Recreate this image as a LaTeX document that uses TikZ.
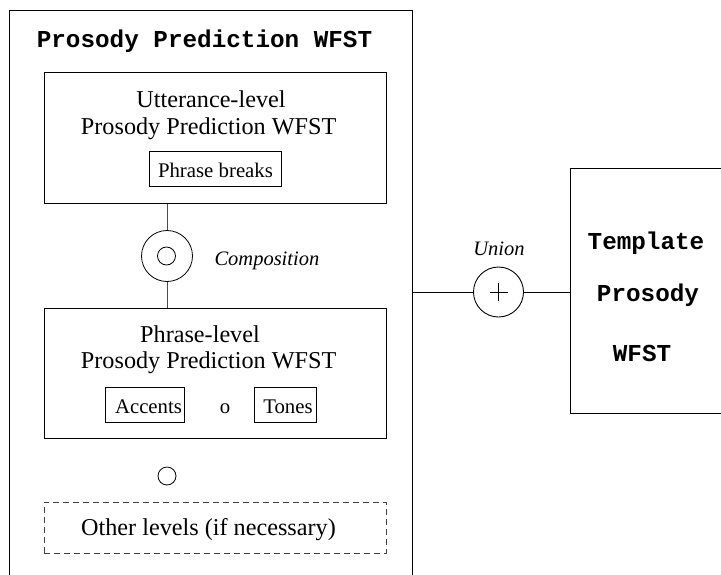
\documentclass[tikz,border=0pt]{standalone}
\usepackage{fontspec}
\setmainfont{Liberation Serif}
\setmonofont{Liberation Mono}
\begin{document}
\begin{tikzpicture}[x=1pt,y=-1pt,
  serif/.style={font=\fontsize{20.8}{24}\selectfont},
  big/.style={font=\fontsize{24.2}{28}\selectfont},
  ital/.style={font=\fontsize{20.5}{24}\selectfont\itshape},
  monot/.style={font=\fontsize{24.3}{28}\selectfont\ttfamily\bfseries},
  box/.style={draw,line width=0.9pt,inner sep=0pt,anchor=north west},
  smallbox/.style={draw,line width=0.8pt,inner sep=0pt},
  conn/.style={line width=0.9pt},
  grayconn/.style={line width=0.8pt,draw=black!70}]
\useasboundingbox (0,0) rectangle (721,574);
% outer box (cut by the page)
\draw[conn] (9.5,580) |- (412,10) -- (412,580);
\node[monot,anchor=base] (title) at (204.5,47) {Prosody Prediction WFST};
% utterance box
\node[box,minimum width=342pt,minimum height=131pt] (utt) at (44,72) {};
\node[big,anchor=base] (utt1) at (211,107) {Utterance-level};
\node[big,anchor=base] (utt2) at (208.7,134) {Prosody Prediction WFST};
\node[smallbox,minimum width=132pt,minimum height=35pt] (pb) at (215,168.5) {};
\node[serif,anchor=base] (pblab) at (215.5,177) {Phrase breaks};
% composition
\node[draw,circle,line width=0.8pt,minimum size=51pt,inner sep=0pt] (comp) at (167,256) {};
\node[draw,circle,line width=0.8pt,minimum size=18pt,inner sep=0pt] (compin) at (166.5,256) {};
\node[ital,anchor=base west] (complab) at (211,265) {Composition};
% phrase box
\node[box,minimum width=342pt,minimum height=130pt] (phr) at (44,308) {};
\node[big,anchor=base] (phr1) at (200,342) {Phrase-level};
\node[big,anchor=base] (phr2) at (208.7,368) {Prosody Prediction WFST};
\node[smallbox,minimum width=79pt,minimum height=35pt] (acc) at (144.5,404.5) {};
\node[serif,anchor=base] (acclab) at (148.5,413) {Accents};
\node[serif,anchor=base] (o) at (225,413) {o};
\node[smallbox,minimum width=62pt,minimum height=35pt] (tones) at (285,404.5) {};
\node[serif,anchor=base] (toneslab) at (288,413) {Tones};
\draw[grayconn] (utt.south -| comp) -- (comp.north);
\draw[grayconn] (comp.south) -- (phr.north -| comp);
% small circle
\node[draw,circle,line width=0.8pt,minimum size=18pt,inner sep=0pt] (sc) at (167,476) {};
% dashed box
\node[box,draw=black!75,line width=0.8pt,minimum width=342pt,minimum height=51pt,dash pattern=on 6pt off 4pt] (oth) at (44,502) {};
\node[big,anchor=base] (othlab) at (208.5,535.5) {Other levels (if necessary)};
% union
\coordinate (ob) at (412,292);
\node[draw,circle,line width=0.9pt,minimum size=50pt,inner sep=0pt] (un) at (498.5,292) {};
\draw[line width=0.9pt] ([xshift=-9pt]un.center) -- ([xshift=9pt]un.center);
\draw[line width=0.9pt] ([yshift=-9pt]un.center) -- ([yshift=9pt]un.center);
\node[ital] (unlab) at (499,249) {Union};
% template box
\draw[conn] (730,168) -| (570,413) -- (730,413);
\coordinate (tb) at (570,292);
\node[monot,anchor=base] (t1) at (646,249) {Template};
\node[monot,anchor=base] (t2) at (648,301) {Prosody};
\node[monot,anchor=base] (t3) at (642,361) {WFST};
\draw[conn] (ob) -- (un.west);
\draw[conn] (un.east) -- (tb);
\end{tikzpicture}
\end{document}
